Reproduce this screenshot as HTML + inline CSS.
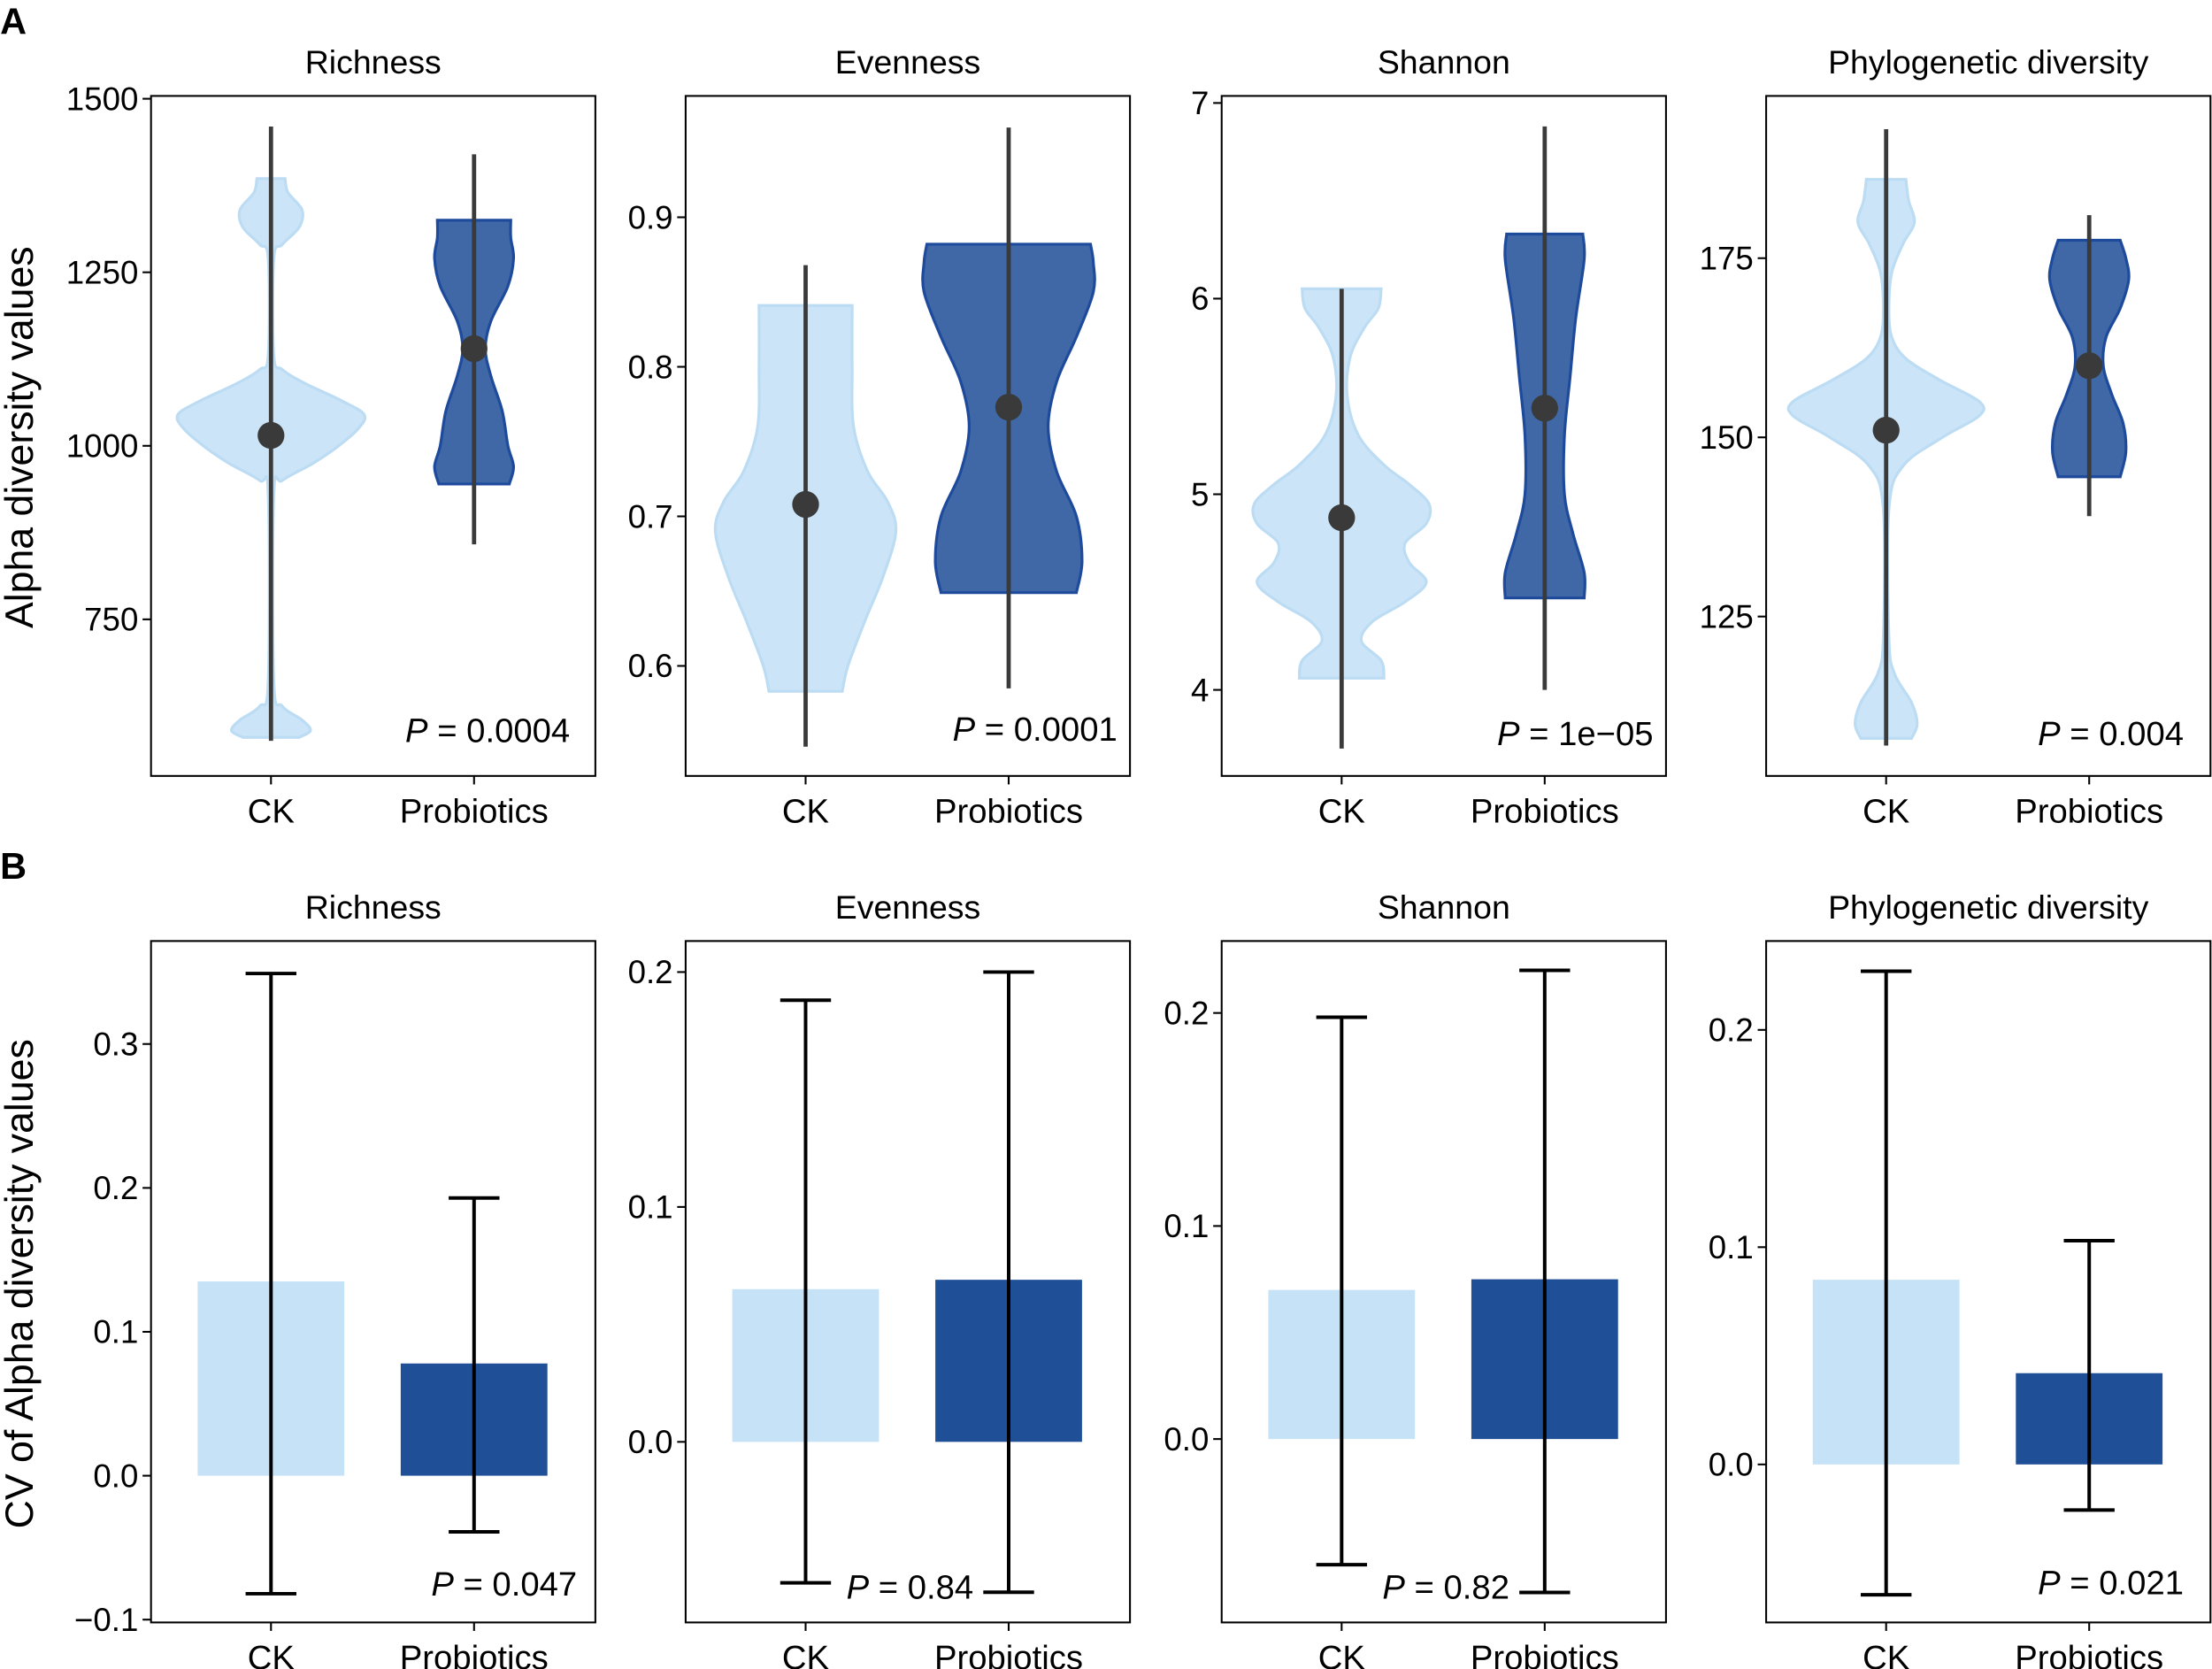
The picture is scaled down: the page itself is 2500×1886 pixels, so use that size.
<!DOCTYPE html>
<html><head><meta charset="utf-8">
<style>
html,body{margin:0;padding:0;background:#fff}
svg{display:block}
text{font-family:"Liberation Sans",Arial,sans-serif;fill:#000}
</style></head>
<body>
<svg id="fig" width="2500" height="1886" viewBox="0 0 1568 1183" xmlns="http://www.w3.org/2000/svg">
<text x="0" y="24" font-size="26" font-weight="bold">A</text>
<text x="0" y="623" font-size="26" font-weight="bold">B</text>
<text transform="translate(23,310) rotate(-90)" text-anchor="middle" font-size="28">Alpha diversity values</text>
<text transform="translate(23,910) rotate(-90)" text-anchor="middle" font-size="28">CV of Alpha diversity values</text>
</svg>
<script>
const titles = ["Richness","Evenness","Shannon","Phylogenetic diversity"];
const groups = ["CK","Probiotics"];
// Violin profiles: [value, halfwidth(relative px)] per panel, CK then Probiotics
const violinCK = [
 [[580,20],[590,28],[605,22],[625,8],[660,2],[930,2],[950,8],[975,30],[1000,48],[1025,62],[1045,66],[1065,50],[1090,24],[1110,8],[1130,2],[1270,2],[1290,8],[1315,20],[1340,22],[1365,12],[1385,10]],
 [[0.583,26],[0.60,30],[0.63,42],[0.66,55],[0.69,64],[0.71,58],[0.73,44],[0.76,34],[0.80,33],[0.841,33]],
 [[4.06,30],[4.15,28],[4.25,14],[4.35,22],[4.45,45],[4.55,60],[4.65,48],[4.75,45],[4.85,60],[4.95,62],[5.05,48],[5.15,30],[5.3,12],[5.5,4],[5.7,6],[5.85,16],[5.95,26],[6.05,28]],
 [[108,18],[110,22],[113,18],[117,6],[122,2],[140,2],[146,12],[150,40],[153,66],[155,66],[158,38],[161,14],[164,4],[168,2],[173,4],[177,12],[180,20],[183,16],[186,14]]
];
const violinPB = [
 [[945,25],[970,28],[1000,24],[1050,20],[1100,12],[1140,8],[1180,12],[1230,24],[1270,28],[1300,26],[1325,26]],
 [[0.649,48],[0.67,52],[0.70,48],[0.73,34],[0.76,28],[0.79,34],[0.82,48],[0.85,60],[0.87,60],[0.882,58]],
 [[4.47,28],[4.6,28],[4.8,20],[5.0,14],[5.3,14],[5.6,18],[5.9,22],[6.2,28],[6.33,27]],
 [[144.5,22],[148,26],[152,24],[156,16],[160,10],[164,12],[168,22],[172,28],[175,26],[177.5,22]]
];
const meanA_CK = [1015,0.708,4.88,151];
const meanA_PB = [1140,0.773,5.44,160];
const wA_CK = [[575,1460],[0.546,0.868],[3.7,6.05],[107,193]];
const wA_PB = [[858,1420],[0.585,0.96],[4.0,6.88],[139,181]];
const pA = ["0.0004","0.0001","1e\u221205","0.004"];
// Bars (CV)
const barCK = [0.135,0.065,0.070,0.085];
const barPB = [0.078,0.069,0.075,0.042];
const errCK = [[-0.082,0.349],[-0.060,0.188],[-0.059,0.198],[-0.060,0.227]];
const errPB = [[-0.039,0.193],[-0.064,0.200],[-0.072,0.220],[-0.021,0.103]];
const pB = ["0.047","0.84","0.82","0.021"];
// axis ticks
const ticksA = [[750,1000,1250,1500],[0.6,0.7,0.8,0.9],[4,5,6,7],[125,150,175]];
const tickLabA = [["750","1000","1250","1500"],["0.6","0.7","0.8","0.9"],["4","5","6","7"],["125","150","175"]];
const ticksB = [[-0.1,0,0.1,0.2,0.3],[0,0.1,0.2],[0,0.1,0.2],[0,0.1,0.2]];
const tickLabB = [["\u22120.1","0.0","0.1","0.2","0.3"],["0.0","0.1","0.2"],["0.0","0.1","0.2"],["0.0","0.1","0.2"]];

const panelX = [107,486,866,1252];
const PW = 315;
const domA = [[[1000,316],[1500,70]],[[0.6,472],[0.9,154]],[[4,489],[7,73]],[[125,437],[175,183]]];
const domB = [[[0,1046],[0.3,740]],[[0,1022],[0.2,689]],[[0,1020],[0.2,718]],[[0,1038],[0.2,730]]];
const NS="http://www.w3.org/2000/svg";
const svg=document.getElementById('fig');
function mk(tag,attrs,parent){const e=document.createElementNS(NS,tag);for(const k in attrs)e.setAttribute(k,attrs[k]);(parent||svg).appendChild(e);return e;}
function scale(d){const [a,b]=d;const k=(b[1]-a[1])/(b[0]-a[0]);return v=>a[1]+(v-a[0])*k;}
function smooth(pts){let d="M"+pts[0][0]+","+pts[0][1];for(let i=0;i<pts.length-1;i++){const p0=pts[Math.max(0,i-1)],p1=pts[i],p2=pts[i+1],p3=pts[Math.min(pts.length-1,i+2)];const c1=[p1[0]+(p2[0]-p0[0])/6,p1[1]+(p2[1]-p0[1])/6],c2=[p2[0]-(p3[0]-p1[0])/6,p2[1]-(p3[1]-p1[1])/6];d+="C"+c1+" "+c2+" "+p2;}return d;}
function violinPath(prof,cx,y){const right=prof.map(p=>[cx+p[1],y(p[0])]);const left=prof.slice().reverse().map(p=>[cx-p[1],y(p[0])]);let d=smooth(right);d+="L"+left[0];d+=smooth(left).replace(/^M[^C]*/,"");return d+"Z";}
function frame(i,top,bot,titleY){
  const x0=panelX[i];
  const t=mk('text',{x:x0+PW/2,y:titleY,'text-anchor':'middle','font-size':23.5});t.textContent=titles[i];
  
  
  const r=mk('rect',{x:x0,y:top,width:PW,height:bot-top,fill:'none',stroke:'#000','stroke-width':1.3});
  
  
  groups.forEach((g,j)=>{const cx=x0+(j?0.727:0.27)*PW;
    mk('line',{x1:cx,x2:cx,y1:bot,y2:bot+6,stroke:'#000','stroke-width':1.3});
    const l=mk('text',{x:cx,y:bot+33,'text-anchor':'middle','font-size':24});l.textContent=g;
    
    });
}
function yticks(i,ticks,labs,y){const x0=panelX[i];ticks.forEach((v,k)=>{const yy=y(v);
  mk('line',{x1:x0-6,x2:x0,y1:yy,y2:yy,stroke:'#000','stroke-width':1.3});
  const t=mk('text',{x:x0-9,y:yy+8,'text-anchor':'end','font-size':23});t.textContent=labs[k];
  
  });}
const pAx=[[404,526],[792,525],[1172,528],[1548,528]];
const pBx=[[409,1131],[645,1133],[1025,1133],[1548,1130]];
function pText(x,y,val,anchor){const t=mk('text',{x:x,y:y,'text-anchor':anchor,'font-size':24});
  t.innerHTML='<tspan font-style="italic">P</tspan> = '+val;
  
  }
for(let i=0;i<4;i++){
  frame(i,68,550,52);
  const ya=scale(domA[i]);
  yticks(i,ticksA[i],tickLabA[i],ya);
  [[violinCK,meanA_CK,wA_CK,'#cbe4f7','#bcdcf4',0.27],[violinPB,meanA_PB,wA_PB,'#4068a7','#1e4a9c',0.727]].forEach(([prof,mean,wh,fill,st,f],j)=>{
    const cx=panelX[i]+f*PW;
    const v=mk('path',{d:violinPath(prof[i],cx,ya),fill:fill,stroke:st,'stroke-width':2});
    
    
    const w=mk('line',{x1:cx,x2:cx,y1:ya(wh[i][0]),y2:ya(wh[i][1]),stroke:'#3a3a3a','stroke-width':3});
    
    
    const c=mk('circle',{cx:cx,cy:ya(mean[i]),r:9.5,fill:'#3a3a3a'});
    
    
  });
  pText(pAx[i][0],pAx[i][1],pA[i],'end');
  frame(i,667,1150,651);
  const yb=scale(domB[i]);
  yticks(i,ticksB[i],tickLabB[i],yb);
  [[barCK,errCK,'#c5e2f6',0.27],[barPB,errPB,'#1f4f97',0.727]].forEach(([bv,er,fill,f],j)=>{
    const cx=panelX[i]+f*PW;
    const b=mk('rect',{x:cx-52,width:104,y:yb(bv[i]),height:yb(0)-yb(bv[i]),fill:fill});
    
    
    const g=mk('path',{d:`M${cx},${yb(er[i][0])}V${yb(er[i][1])}M${cx-18},${yb(er[i][0])}h36M${cx-18},${yb(er[i][1])}h36`,stroke:'#000','stroke-width':2.5,fill:'none'});
    
    
  });
  pText(pBx[i][0],pBx[i][1],pB[i],i===1||i===2?'middle':'end');
}
</script>
</body></html>
